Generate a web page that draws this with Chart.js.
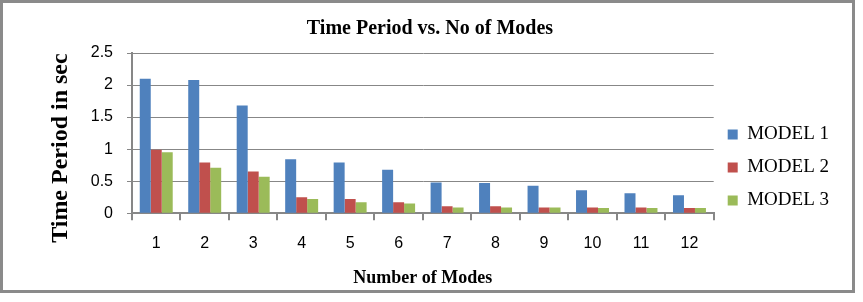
<!DOCTYPE html>
<html>
<head>
<meta charset="utf-8">
<script src="https://cdn.jsdelivr.net/npm/chart.js@4"></script>
<style>
  body { margin: 0; background: #fff; }
  #wrap { width: 863px; height: 302px; }
</style>
</head>
<body>
<div id="wrap"><canvas id="modesChart" width="863" height="302"></canvas></div>
<script>
// number of modes on the x axis
const modes = ['1', '2', '3', '4', '5', '6', '7', '8', '9', '10', '11', '12'];

// time period in sec
const model1 = [2.10, 2.08, 1.68, 0.84, 0.79, 0.68, 0.48, 0.47, 0.43, 0.36, 0.31, 0.28];
const model2 = [0.99, 0.79, 0.65, 0.25, 0.22, 0.17, 0.11, 0.11, 0.09, 0.09, 0.09, 0.08];
const model3 = [0.95, 0.71, 0.57, 0.22, 0.17, 0.15, 0.09, 0.09, 0.09, 0.08, 0.08, 0.08];

const yTicks = [0, 0.5, 1, 1.5, 2, 2.5];

const grey = '#878787';

// grey frame round the whole chart
const framePlugin = {
    id: 'frame',
    beforeDraw(chart) {
        const c = chart.ctx;
        c.save();
        c.fillStyle = '#fff';
        c.fillRect(0, 0, chart.width, chart.height);
        c.strokeStyle = '#8a8a8a';
        c.lineWidth = 3;
        c.strokeRect(1.5, 1.5, 852, 290);
        c.restore();
    }
};

const ctx = document.getElementById('modesChart').getContext('2d');

new Chart(ctx, {
    type: 'bar',
    data: {
        labels: modes,
        datasets: [
            { label: 'MODEL 1', data: model1, backgroundColor: '#4F81BD' },
            { label: 'MODEL 2', data: model2, backgroundColor: '#C0504D' },
            { label: 'MODEL 3', data: model3, backgroundColor: '#9BBB59' }
        ]
    },
    options: {
        responsive: false,
        animation: false,
        layout: { padding: { left: 21, right: 24, top: 0, bottom: 13 } },
        datasets: {
            bar: { categoryPercentage: 0.68, barPercentage: 1.0 }
        },
        scales: {
            y: {
                min: 0,
                max: 2.5,
                afterFit(scale) { scale.width = 111; },
                afterBuildTicks(scale) { scale.ticks = yTicks.map(v => ({ value: v })); },
                border: { color: grey, width: 2 },
                grid: { color: grey, lineWidth: 1, tickLength: 5 },
                ticks: {
                    color: '#000',
                    padding: 14,
                    callback: v => String(v),
                    font: { family: 'Liberation Sans', size: 16 }
                },
                title: {
                    display: true,
                    // trailing spaces push the rotated text a little lower, as in the picture
                    text: 'Time Period in sec     ',
                    color: '#000',
                    padding: { top: 25, bottom: 0 },
                    font: { family: 'Liberation Serif', size: 24, weight: 'bold' }
                }
            },
            x: {
                border: { color: grey, width: 2 },
                grid: { color: grey, lineWidth: 2, drawOnChartArea: false, tickLength: 7 },
                ticks: {
                    color: '#000',
                    padding: 14,
                    font: { family: 'Liberation Sans', size: 16 }
                },
                title: {
                    display: true,
                    text: 'Number of Modes',
                    color: '#000',
                    padding: { top: 0, bottom: 0 },
                    font: { family: 'Liberation Serif', size: 18, weight: 'bold' }
                }
            }
        },
        plugins: {
            title: {
                display: true,
                text: 'Time Period vs. No of Modes',
                color: '#000',
                padding: { top: 17, bottom: 12 },
                font: { family: 'Liberation Serif', size: 20, weight: 'bold' }
            },
            legend: {
                position: 'right',
                align: 'start',
                // an empty legend title only serves as a spacer above the items
                title: {
                    display: true,
                    text: '',
                    padding: { top: 99, bottom: 0 },
                    font: { size: 10 }
                },
                labels: {
                    color: '#000',
                    boxWidth: 10,
                    boxHeight: 10,
                    padding: 14,
                    font: { family: 'Liberation Serif', size: 19 }
                }
            },
            tooltip: { enabled: false }
        }
    },
    plugins: [framePlugin]
});
</script>
</body>
</html>
